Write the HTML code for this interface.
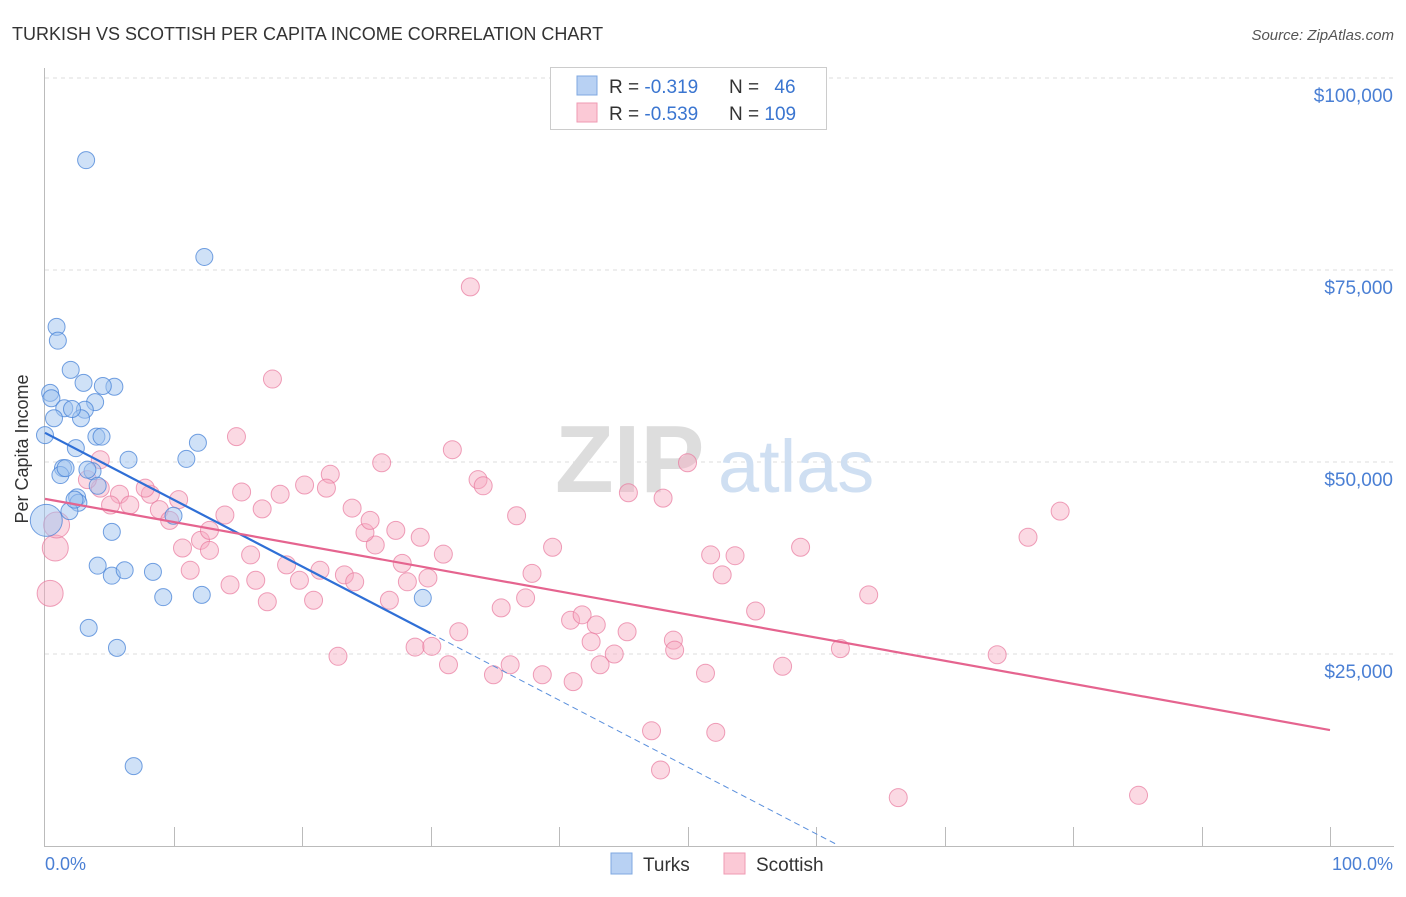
<!DOCTYPE html>
<html><head><meta charset="utf-8"><style>
body{margin:0;background:#fff;font-family:"Liberation Sans",sans-serif}
svg text{font-family:"Liberation Sans",sans-serif}
</style></head><body>
<svg id="c" width="1406" height="892">
<text x="12" y="40" font-size="18" fill="#333">TURKISH VS SCOTTISH PER CAPITA INCOME CORRELATION CHART</text>
<text x="1394" y="40" font-size="15" fill="#555" font-style="italic" text-anchor="end">Source: ZipAtlas.com</text>
<g id="grid"></g>
<text x="555" y="492" font-size="96" font-weight="bold" fill="#ddd" font-family="Liberation Serif">ZIP</text>
<text x="718" y="492" font-size="74" fill="#cfdff2">atlas</text>
<g id="pts"></g>
<g id="lines"></g>
<text x="34" y="455" font-size="18" fill="#333" text-anchor="middle" transform="rotate(-90 28 455)">Per Capita Income</text>
<text x="45" y="870" font-size="18" fill="#4a7fd4">0.0%</text>
<text x="1393" y="870" font-size="18" fill="#4a7fd4" text-anchor="end">100.0%</text>
<g>
<rect x="550.5" y="67.5" width="276" height="62" fill="#fff" stroke="#ccc"/>
<rect x="577" y="76" width="20" height="19" fill="#b8d1f3" stroke="#7fa8e0"/>
<rect x="577" y="103" width="20" height="19" fill="#fbc9d6" stroke="#ef9ab3"/>
<text x="609" y="93" font-size="19" fill="#333">R = <tspan fill="#3a75d0">-0.319</tspan></text>
<text x="729" y="93" font-size="19" fill="#333">N = <tspan fill="#3a75d0" dx="10">46</tspan></text>
<text x="609" y="120" font-size="19" fill="#333">R = <tspan fill="#3a75d0">-0.539</tspan></text>
<text x="729" y="120" font-size="19" fill="#333">N = <tspan fill="#3a75d0">109</tspan></text>
</g>
<g>
<rect x="611" y="853" width="21" height="21" fill="#b8d1f3" stroke="#7fa8e0"/>
<text x="643" y="871" font-size="19" fill="#333">Turks</text>
<rect x="724" y="853" width="21" height="21" fill="#fbc9d6" stroke="#ef9ab3"/>
<text x="756" y="871" font-size="19" fill="#333">Scottish</text>
</g>
</svg>
<script>
const yTicks=[25000,50000,75000,100000];
const yTickLabels=["$25,000","$50,000","$75,000","$100,000"];
const turksX=[3.2,12.4,0.9,1.0,2.0,3.0,5.4,4.5,0.4,0.5,3.9,1.5,3.1,0.7,2.8,2.1,4.0,4.4,2.4,6.5,11.0,11.9,1.4,1.2,1.6,3.7,4.1,2.5,2.6,1.9,10.0,5.2,4.1,5.2,6.2,8.4,9.2,12.2,3.4,5.6,29.4,6.9,0,2.3,3.3,0.1];
const turksY=[89.3,76.7,67.6,65.8,62.0,60.3,59.8,59.9,59.0,58.3,57.8,57.0,56.8,55.7,55.7,56.9,53.3,53.3,51.8,50.3,50.4,52.5,49.2,48.3,49.2,48.8,46.9,45.4,44.7,43.6,43.0,40.9,36.5,35.2,35.9,35.7,32.4,32.7,28.4,25.8,32.3,10.4,53.5,45.1,49.0,42.4];
const scotX=[33.1,17.7,14.9,31.7,26.2,50.0,22.2,20.2,33.7,34.1,45.4,48.1,15.3,18.3,21.9,79.0,23.9,16.9,36.7,76.5,39.5,58.8,25.7,24.9,29.2,27.3,25.3,31.0,27.8,16.0,16.4,10.4,8.2,5.8,4.3,3.3,6.6,8.9,9.7,12.1,12.8,14.0,11.3,12.8,10.7,14.4,18.8,19.8,21.4,23.3,24.1,28.2,29.8,37.9,51.8,53.7,52.7,64.1,55.3,26.8,35.5,37.4,40.9,41.8,42.9,45.3,48.9,49.0,42.5,44.3,32.2,28.8,30.1,22.8,31.4,43.2,34.9,36.2,38.7,41.1,51.4,57.4,61.9,74.1,47.2,52.2,47.9,66.4,85.1,17.3,20.9,4.3,5.1,7.8,0.8,0.4,0.9];
const scotY=[72.8,60.8,53.3,51.6,49.9,49.9,48.4,47.0,47.7,46.9,46.0,45.3,46.1,45.8,46.6,43.6,44.0,43.9,43.0,40.2,38.9,38.9,39.2,40.8,40.2,41.1,42.4,38.0,36.8,37.9,34.6,45.1,45.8,45.8,46.6,47.7,44.4,43.8,42.4,39.8,41.1,43.1,35.9,38.5,38.8,34.0,36.6,34.6,35.9,35.3,34.4,34.4,34.9,35.5,37.9,37.8,35.3,32.7,30.6,32.0,31.0,32.3,29.4,30.1,28.8,27.9,26.8,25.5,26.6,25.0,27.9,25.9,26.0,24.7,23.6,23.6,22.3,23.6,22.3,21.4,22.5,23.4,25.7,24.9,15.0,14.8,9.9,6.3,6.6,31.8,32.0,50.3,44.4,46.6,38.8,32.9,41.8];
const bigT=[45];const bigS=[94,95,96];
const turksTrend=[53.8,27.7];const scotTrend=[45.2,15.1];
const X=p=>45+p*12.85, Y=v=>846-v*7.68;
const NS="http://www.w3.org/2000/svg";
function mk(t,a,p){const e=document.createElementNS(NS,t);for(const k in a)e.setAttribute(k,a[k]);p.appendChild(e);return e;}
const g=document.getElementById('grid');
yTicks.forEach((t,i)=>{const y=Y(t/1000);
const l=mk('line',{x1:45,x2:1394,y1:y,y2:y,stroke:'#ddd','stroke-dasharray':'4,4'},g);


const tx=mk('text',{x:1393,y:y+24,'font-size':19,fill:'#4a7fd4','text-anchor':'end'},g);tx.textContent=yTickLabels[i];

});
const ax=mk('line',{x1:44.5,x2:44.5,y1:68,y2:846,stroke:'#bbb'},g);


const bx=mk('line',{x1:44,x2:1394,y1:846.5,y2:846.5,stroke:'#bbb'},g);


for(let i=1;i<=10;i++){const x=Math.round(X(i*10))+.5;const t=mk('line',{x1:x,x2:x,y1:827,y2:846,stroke:'#bbb'},g);

}
const P=document.getElementById('pts');
scotX.forEach((x,i)=>{const r=bigS.includes(i)?13:9;const c=mk('circle',{cx:X(x),cy:Y(scotY[i]),r:r,fill:'rgba(246,170,194,0.45)',stroke:'rgba(232,120,156,0.7)','stroke-width':1},P);

});
turksX.forEach((x,i)=>{const r=bigT.includes(i)?16:8.5;const c=mk('circle',{cx:X(x),cy:Y(turksY[i]),r:r,fill:'rgba(160,196,240,0.5)',stroke:'rgba(70,130,215,0.75)','stroke-width':1},P);

});
const L=document.getElementById('lines');
const ty=p=>turksTrend[0]+(turksTrend[1]-turksTrend[0])*p/30;
const l1=mk('line',{x1:X(0),y1:Y(ty(0)),x2:X(30),y2:Y(ty(30)),stroke:'#2f6fd6','stroke-width':2.2},L);


const l2=mk('line',{x1:X(30),y1:Y(ty(30)),x2:X(61.7),y2:Y(ty(61.7)),stroke:'#5a8fdc','stroke-width':1,'stroke-dasharray':'6,4'},L);


const l3=mk('line',{x1:X(0),y1:Y(scotTrend[0]),x2:X(100),y2:Y(scotTrend[1]),stroke:'#e5648f','stroke-width':2.2},L);


</script>
</body></html>
